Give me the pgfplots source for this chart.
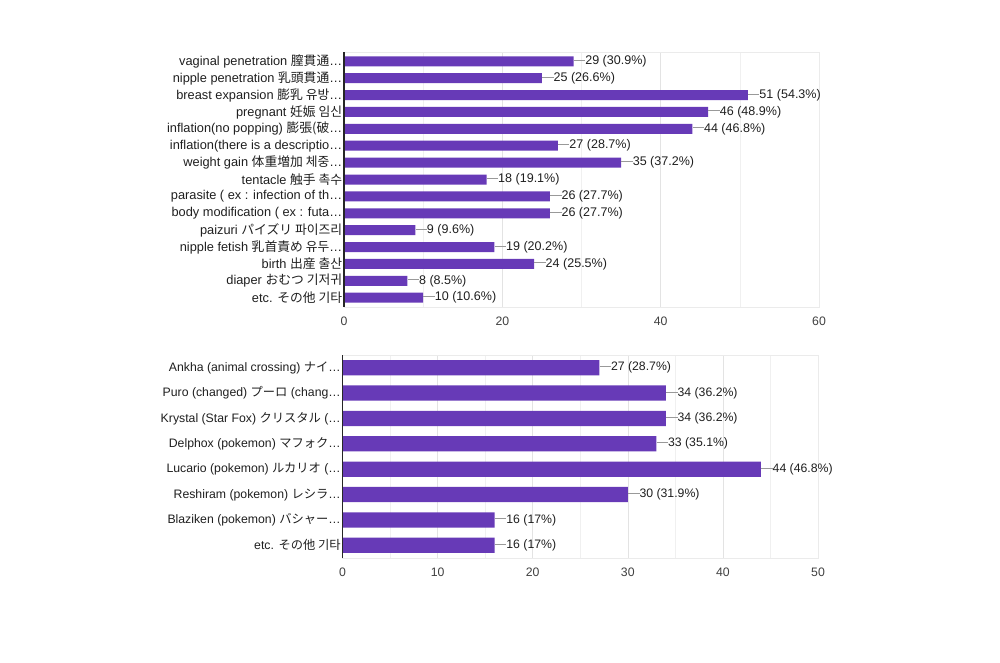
\documentclass[border=0pt]{standalone}
\usepackage{fontspec}
\setmainfont{Liberation Sans}
\newfontfamily\cjk{Noto Sans CJK JP}
\usepackage{pgfplots}
\pgfplotsset{compat=1.18}
\definecolor{barc}{HTML}{673AB7}
\begin{document}
\begin{tikzpicture}
\path[use as bounding box] (0pt,0pt) rectangle (750pt,496.5pt);
\pgfplotsset{mystyle/.style={
  xbar, scale only axis, y dir=reverse,
  axis line style={draw=black!8},
  major tick length=0pt, minor tick length=0pt,
  xmajorgrids=true, xminorgrids=true, ymajorgrids=false, yminorgrids=false,
  major grid style={black!11}, minor grid style={black!6},
  xticklabel style={font=\fontsize{9.2}{10}\selectfont, text=black!75, yshift=-4pt},
  yticklabel style={text=black!88, inner xsep=1.2pt},
  /pgf/number format/assume math mode=true,
  point meta=explicit symbolic,
  nodes near coords={\textcolor{black!40}{\rule[0.62ex]{8.6pt}{0.5pt}}\pgfplotspointmeta},
  every node near coord/.append style={anchor=west, inner xsep=0pt, text=black!88, font=\fontsize{9.4}{10}\selectfont},
  xmin=0, clip=false,
}}
\begin{axis}[mystyle,
  at={(258pt,457.5pt)}, anchor=north west,
  width=356.25pt, height=191.25pt,
  xmax=60, xtick={0,20,40,60}, minor xtick={10,30,50},
  ymin=-0.55, ymax=14.55, ytick={0,...,14},
  yticklabel style={font=\fontsize{9.6}{10}\selectfont},
  yticklabels={
    {vaginal penetration {\cjk 膣貫通}…},
    {nipple penetration {\cjk 乳頭貫通}…},
    {breast expansion {\cjk 膨乳 유방}…},
    {pregnant {\cjk 妊娠 임신}},
    {inflation(no popping) {\cjk 膨張(破}…},
    {inflation(there is a descriptio…},
    {weight gain {\cjk 体重増加 체중}…},
    {tentacle {\cjk 触手 촉수}},
    {parasite ( ex : infection of th…},
    {body modification ( ex : futa…},
    {paizuri {\cjk パイズリ 파이즈리}},
    {nipple fetish {\cjk 乳首責め 유두}…},
    {birth {\cjk 出産 출산}},
    {diaper {\cjk おむつ 기저귀}},
    {etc. {\cjk その他 기타}}},
  bar width=7.5pt,
]
\addplot[fill=barc, draw=none] coordinates {
 (29,0) [29 (30.9\%)]
 (25,1) [25 (26.6\%)]
 (51,2) [51 (54.3\%)]
 (46,3) [46 (48.9\%)]
 (44,4) [44 (46.8\%)]
 (27,5) [27 (28.7\%)]
 (35,6) [35 (37.2\%)]
 (18,7) [18 (19.1\%)]
 (26,8) [26 (27.7\%)]
 (26,9) [26 (27.7\%)]
 (9,10) [9 (9.6\%)]
 (19,11) [19 (20.2\%)]
 (24,12) [24 (25.5\%)]
 (8,13) [8 (8.5\%)]
 (10,14) [10 (10.6\%)]
};
\draw[black!85, line width=0.8pt] (rel axis cs:0,0) -- (rel axis cs:0,1);
\end{axis}
\begin{axis}[mystyle,
  at={(256.9pt,230.25pt)}, anchor=north west,
  width=356.6pt, height=152.25pt,
  xmax=50, xtick={0,10,...,50}, minor xtick={5,15,...,45},
  ymin=-0.5, ymax=7.5, ytick={0,...,7},
  yticklabel style={font=\fontsize{9.2}{10}\selectfont},
  yticklabels={
    {Ankha (animal crossing) {\cjk ナイ}…},
    {Puro (changed) {\cjk プーロ} (chang…},
    {Krystal (Star Fox) {\cjk クリスタル} (…},
    {Delphox (pokemon) {\cjk マフォク}…},
    {Lucario (pokemon) {\cjk ルカリオ} (…},
    {Reshiram (pokemon) {\cjk レシラ}…},
    {Blaziken (pokemon) {\cjk バシャー}…},
    {etc. {\cjk その他 기타}}},
  bar width=11.5pt,
  every node near coord/.append style={font=\fontsize{9.2}{10}\selectfont},
]
\addplot[fill=barc, draw=none] coordinates {
 (27,0) [27 (28.7\%)]
 (34,1) [34 (36.2\%)]
 (34,2) [34 (36.2\%)]
 (33,3) [33 (35.1\%)]
 (44,4) [44 (46.8\%)]
 (30,5) [30 (31.9\%)]
 (16,6) [16 (17\%)]
 (16,7) [16 (17\%)]
};
\draw[black!85, line width=0.8pt] (rel axis cs:0,0) -- (rel axis cs:0,1);
\end{axis}
\end{tikzpicture}
\end{document}
